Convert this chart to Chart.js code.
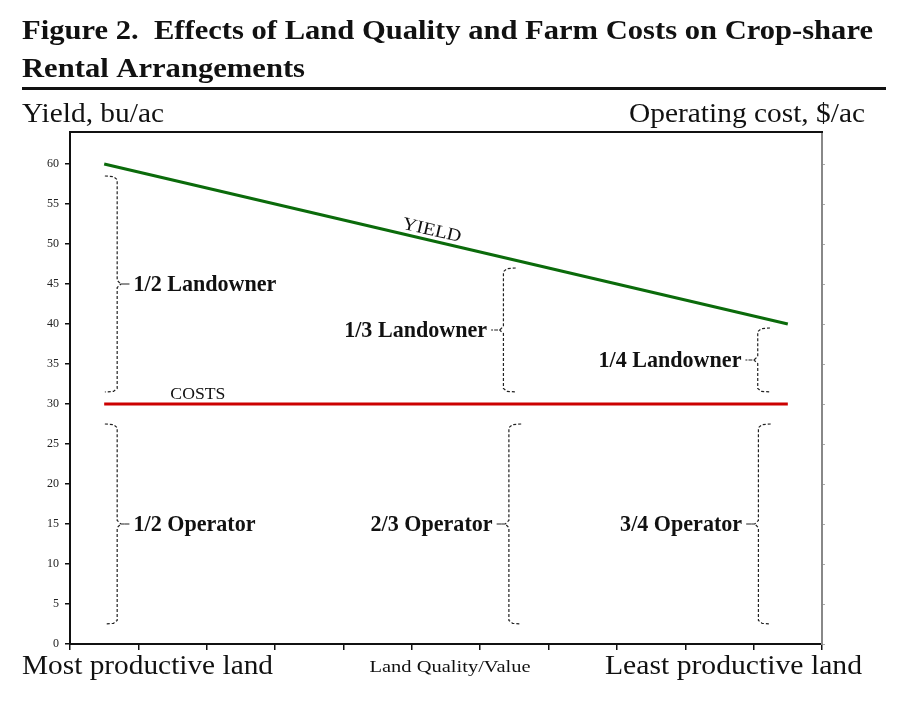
<!DOCTYPE html>
<html>
<head>
<meta charset="utf-8">
<title>Figure 2</title>
<script src="https://cdn.jsdelivr.net/npm/chart.js@4.4.1/dist/chart.umd.min.js"></script>
<style>
    html, body { margin: 0; padding: 0; background: #fff; }
    #wrap { width: 900px; height: 702px; }
</style>
</head>
<body>
<div id="wrap"><canvas id="cropShareChart" width="900" height="702"></canvas></div>
<script>
// land quality runs left (most productive) to right (least productive)
const qualityTicks = [0, 1, 2, 3, 4, 5, 6, 7, 8, 9, 10, 11];
const yTickValues = [0, 5, 10, 15, 20, 25, 30, 35, 40, 45, 50, 55, 60];

const landQuality = [0.5, 10.5];
const yieldBu = [60, 40];
const costPerAcre = [30, 30];

// share brackets: label, low / high end (bu/ac), where along land quality
const shareLabels = ["1/2 Landowner", "1/3 Landowner", "1/4 Landowner", "1/2 Operator", "2/3 Operator", "3/4 Operator"];
const shareLow = [31.5, 31.5, 31.5, 2.5, 2.5, 2.5];
const shareHigh = [58.5, 47, 39.5, 27.5, 27.5, 27.5];
const shareAt = [0.69, 6.34, 10.06, 0.69, 6.42, 10.07];

const SERIF = '"Liberation Serif", "DejaVu Serif", serif';

function braceDir(i) {
    return shareAt[i] < 5.5 ? 1 : -1;
}

function bracePoints(i) {
    const v = shareAt[i], lo = shareLow[i], hi = shareHigh[i];
    const mid = (lo + hi) / 2;
    const d = braceDir(i);
    const w = 0.18, r = 0.45;
    return [
        { x: v - d * w, y: hi },
        { x: v - d * w * 0.3, y: hi - 0.08 },
        { x: v, y: hi - r },
        { x: v, y: mid + r },
        { x: v + d * w * 0.3, y: mid },
        { x: v + d * w, y: mid },
        { x: v + d * w * 0.3, y: mid },
        { x: v, y: mid - r },
        { x: v, y: lo + r },
        { x: v - d * w * 0.3, y: lo + 0.08 },
        { x: v - d * w, y: lo },
    ];
}

// draw text scaled horizontally so it fills a given width
function fitText(ctx, text, x, y, font, align, width) {
    ctx.save();
    ctx.font = font;
    const m = ctx.measureText(text).width;
    const s = width ? width / m : 1;
    ctx.translate(x, y);
    ctx.scale(s, 1);
    ctx.textAlign = align;
    ctx.fillText(text, 0, 0);
    ctx.restore();
}

const annotate = {
    id: "annotate",
    afterDraw(chart) {
        const { ctx, chartArea, scales } = chart;
        const x = scales.x, y = scales.y;
        ctx.save();
        ctx.fillStyle = "#111";
        ctx.textBaseline = "alphabetic";

        // frame top edge
        ctx.strokeStyle = "#111";
        ctx.lineWidth = 2;
        ctx.beginPath();
        ctx.moveTo(chartArea.left - 1, chartArea.top);
        ctx.lineTo(chartArea.right + 1, chartArea.top);
        ctx.stroke();

        // title block
        fitText(ctx, "Figure 2.  Effects of Land Quality and Farm Costs on Crop-share", 22, 39, "bold 28px " + SERIF, "left", 851);
        fitText(ctx, "Rental Arrangements", 22, 77, "bold 28px " + SERIF, "left", 283);
        ctx.fillRect(22, 87, 864, 3);

        // axis captions
        fitText(ctx, "Yield, bu/ac", 22, 122, "27px " + SERIF, "left", 142);
        fitText(ctx, "Operating cost, $/ac", 865, 122, "27px " + SERIF, "right", 236);
        fitText(ctx, "Most productive land", 22, 674, "27px " + SERIF, "left", 251);
        fitText(ctx, "Land Quality/Value", 450, 672, "17px " + SERIF, "center", 161);
        fitText(ctx, "Least productive land", 862, 674, "27px " + SERIF, "right", 257);

        // line labels
        const x0 = x.getPixelForValue(landQuality[0]), x1 = x.getPixelForValue(landQuality[1]);
        const y0 = y.getPixelForValue(yieldBu[0]), y1 = y.getPixelForValue(yieldBu[1]);
        const ang = Math.atan2(y1 - y0, x1 - x0);
        const lx = x.getPixelForValue(5.26);
        const ly = y0 + (lx - x0) * (y1 - y0) / (x1 - x0);
        ctx.save();
        ctx.translate(lx, ly);
        ctx.rotate(ang);
        fitText(ctx, "YIELD", 0, -5, "18px " + SERIF, "center", 60);
        ctx.restore();

        fitText(ctx, "COSTS", x.getPixelForValue(1.87), y.getPixelForValue(costPerAcre[0]) - 5, "16px " + SERIF, "center", 55);

        // share labels beside each bracket
        ctx.textBaseline = "middle";
        shareLabels.forEach((lab, i) => {
            const d = braceDir(i);
            const px = x.getPixelForValue(shareAt[i] + d * 0.18) + d * 4;
            const py = y.getPixelForValue((shareLow[i] + shareHigh[i]) / 2) + 1;
            ctx.save();
            ctx.font = "bold 24px " + SERIF;
            const wd = ctx.measureText(lab).width * 0.92;
            ctx.restore();
            fitText(ctx, lab, px, py, "bold 24px " + SERIF, d > 0 ? "left" : "right", wd);
        });
        ctx.restore();
    },
};

const braceSets = shareLabels.map((lab, i) => ({
    label: lab,
    data: bracePoints(i),
    borderColor: "#222",
    borderWidth: 1.2,
    borderDash: [3, 2],
    pointRadius: 0,
    tension: 0,
}));

new Chart(document.getElementById("cropShareChart"), {
    type: "line",
    data: {
        datasets: [
            {
                label: "YIELD",
                data: landQuality.map((q, i) => ({ x: q, y: yieldBu[i] })),
                borderColor: "#0b6b0b",
                borderWidth: 3,
                pointRadius: 0,
            },
            {
                label: "COSTS",
                data: landQuality.map((q, i) => ({ x: q, y: costPerAcre[i] })),
                borderColor: "#cc0000",
                borderWidth: 3,
                pointRadius: 0,
            },
            ...braceSets,
        ],
    },
    options: {
        responsive: false,
        animation: false,
        layout: { padding: { top: 132, left: 0, right: 0, bottom: 0 } },
        plugins: {
            legend: { display: false },
            tooltip: { enabled: false },
        },
        scales: {
            x: {
                type: "linear",
                min: 0,
                max: 11,
                afterBuildTicks: (s) => { s.ticks = qualityTicks.map((v) => ({ value: v })); },
                afterFit: (s) => { s.height = 58; },
                ticks: { display: false },
                grid: { drawOnChartArea: false, drawTicks: true, tickLength: 6, color: "#111", lineWidth: 1.5 },
                border: { color: "#111", width: 2 },
            },
            y: {
                position: "left",
                min: 0,
                max: 64,
                afterBuildTicks: (s) => { s.ticks = yTickValues.map((v) => ({ value: v })); },
                afterFit: (s) => { s.width = 70; },
                ticks: {
                    color: "#222",
                    padding: 6,
                    font: { family: SERIF, size: 12 },
                },
                grid: { drawOnChartArea: false, drawTicks: true, tickLength: 5, color: "#111", lineWidth: 1.5 },
                border: { color: "#111", width: 2 },
            },
            y2: {
                position: "right",
                min: 0,
                max: 64,
                afterBuildTicks: (s) => { s.ticks = yTickValues.map((v) => ({ value: v })); },
                afterFit: (s) => { s.width = 78; },
                ticks: { display: false },
                grid: { drawOnChartArea: false, drawTicks: true, tickLength: 3, color: "#aaa", lineWidth: 1 },
                border: { color: "#888", width: 2 },
            },
        },
    },
    plugins: [annotate],
});
</script>
</body>
</html>
